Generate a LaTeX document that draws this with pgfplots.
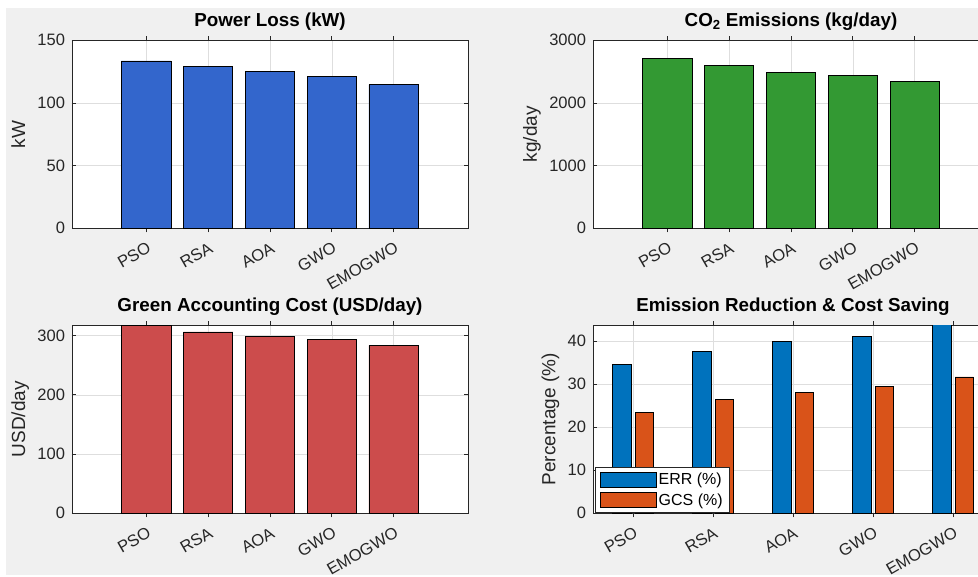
\documentclass[border=0pt]{standalone}
\usepackage{fontspec}
\setmainfont{Liberation Sans}
\usepackage{pgfplots}
\pgfplotsset{compat=1.18}
\definecolor{bggray}{HTML}{F0F0F0}
\definecolor{axgray}{HTML}{262626}
\definecolor{gridgray}{HTML}{DEDEDE}
\definecolor{plblue}{rgb}{0.2,0.4,0.8}
\definecolor{plgreen}{rgb}{0.2,0.6,0.2}
\definecolor{plred}{rgb}{0.8,0.3,0.3}
\definecolor{errblue}{HTML}{0072BD}
\definecolor{gcsorange}{HTML}{D95319}
\pgfplotsset{
  matlab/.style={
    scale only axis, anchor=south west,
    width=396pt, height=188pt,
    axis background/.style={fill=white},
    axis line style={color=axgray, line width=0.9pt},
    every tick/.style={color=axgray, line width=0.8pt},
    tick align=inside, major tick length=4pt,
    xtick pos=both, ytick pos=both,
    xmajorgrids, ymajorgrids,
    grid style={color=gridgray, line width=0.6pt},
    /pgf/number format/assume math mode=true,
    /pgf/number format/1000 sep={},
    tick label style={font=\fontsize{16.5}{19}\selectfont, color=axgray},
    yticklabel style={xshift=-3.5pt},
    xtick={1,2,3,4,5},
    xticklabels={PSO,RSA,AOA,GWO,EMOGWO},
    xticklabel style={xshift=0pt, yshift=-9pt, rotate=30, anchor=north east, inner sep=0pt},
    title style={font=\bfseries\fontsize{18.8}{22}\selectfont, at={(0.5,1)}, anchor=base, yshift=8pt},
    ylabel style={font=\fontsize{19}{22}\selectfont, color=axgray, at={(ticklabel cs:0.5,9pt)}, anchor=base},
    ymin=0, ybar, bar width=0.8,
    enlargelimits=false,
  }
}
\begin{document}
\begin{tikzpicture}
\path[use as bounding box] (0pt,0pt) rectangle (978pt,577pt);
\begin{scope}
\clip (0pt,0pt) rectangle (978pt,577pt);
\fill[white] (0pt,0pt) rectangle (978pt,577pt);
\fill[bggray] (6pt,2pt) rectangle (978pt,569pt);

\begin{axis}[matlab, at={(72pt,348.7pt)},
  xmin=-0.2, xmax=6.2, ymax=150, ytick={0,50,100,150},
  title={Power Loss (kW)}, ylabel={kW}]
\addplot[fill=plblue, draw=black, line width=0.8pt] coordinates {(1,133.5)(2,129.0)(3,124.8)(4,120.8)(5,114.7)};
\end{axis}

\begin{axis}[matlab, at={(593pt,348.7pt)},
  xmin=-0.2, xmax=6.2, ymax=3000, ytick={0,1000,2000,3000},
  title={CO\textsubscript{2} Emissions (kg/day)}, ylabel={kg/day}]
\addplot[fill=plgreen, draw=black, line width=0.8pt] coordinates {(1,2713)(2,2596)(3,2490)(4,2442)(5,2347)};
\end{axis}

\begin{axis}[matlab, at={(72pt,63.7pt)},
  xmin=-0.2, xmax=6.2, ymax=317.5, ytick={0,100,200,300},
  title={Green Accounting Cost (USD/day)}, ylabel={USD/day}]
\addplot[fill=plred, draw=black, line width=0.8pt] coordinates {(1,318)(2,306.2)(3,298.3)(4,293.2)(5,283.6)};
\end{axis}

\begin{axis}[matlab, at={(593pt,63.7pt)}, width=400pt,
  xmin=0.5, xmax=5.5, ymax=43.7, ytick={0,10,20,30,40},
  bar width=0.23,
  title={Emission Reduction \& Cost Saving}, ylabel={Percentage (\%)},
  legend image code/.code={\draw[#1] (0pt,-7.5pt) rectangle (56pt,7.5pt);},
  legend style={at={(0,0)}, anchor=south west, xshift=1.5pt, draw=axgray, line width=0.8pt,
    fill=white, font=\fontsize{16}{19}\selectfont, inner xsep=5pt, inner ysep=4pt,
    row sep=3.5pt},
  legend cell align=left]
\addplot[fill=errblue, draw=black, line width=0.8pt, bar shift=-0.14] coordinates {(1,34.6)(2,37.6)(3,40.0)(4,41.2)(5,43.8)};
\addplot[fill=gcsorange, draw=black, line width=0.8pt, bar shift=0.14] coordinates {(1,23.5)(2,26.5)(3,28.1)(4,29.5)(5,31.7)};
\legend{ERR (\%), GCS (\%)}
\end{axis}
\end{scope}
\end{tikzpicture}
\end{document}
